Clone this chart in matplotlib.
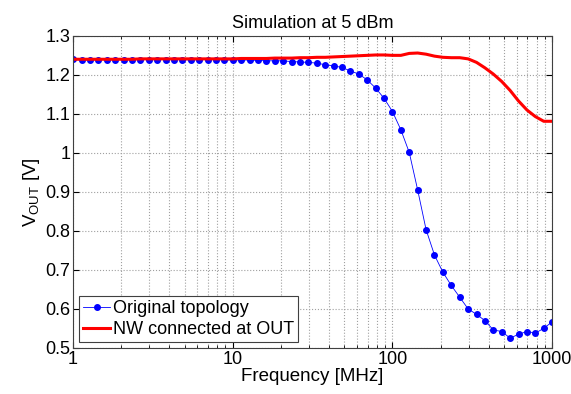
import numpy as np
import matplotlib.pyplot as plt
from matplotlib.ticker import FixedLocator, FixedFormatter, LogLocator, NullFormatter

plt.rcParams['font.family'] = ['Liberation Sans', 'DejaVu Sans']
plt.rcParams['mathtext.fontset'] = 'custom'
plt.rcParams['mathtext.rm'] = 'Liberation Sans'
plt.rcParams['mathtext.it'] = 'Liberation Sans'

# frequencias (MHz), 19 pontos por decada
freq = [1, 1.129, 1.274, 1.438, 1.624, 1.833, 2.069, 2.336, 2.637, 2.976,
        3.360, 3.793, 4.281, 4.833, 5.456, 6.158, 6.952, 7.848, 8.859, 10,
        11.29, 12.74, 14.38, 16.24, 18.33, 20.69, 23.36, 26.37, 29.76, 33.60,
        37.93, 42.81, 48.33, 54.56, 61.58, 69.52, 78.48, 88.59, 100, 112.9,
        127.4, 143.8, 162.4, 183.3, 206.9, 233.6, 263.7, 297.6, 336.0, 379.3,
        428.1, 483.3, 545.6, 615.8, 695.2, 784.8, 885.9, 1000]

# topologia original
v_orig = [1.240, 1.238, 1.238, 1.239, 1.239, 1.239, 1.239, 1.239, 1.239, 1.239,
          1.239, 1.239, 1.239, 1.239, 1.238, 1.239, 1.239, 1.239, 1.238, 1.238,
          1.238, 1.238, 1.237, 1.236, 1.236, 1.236, 1.234, 1.233, 1.232, 1.230,
          1.226, 1.223, 1.219, 1.210, 1.202, 1.187, 1.166, 1.140, 1.106, 1.059,
          1.001, 0.905, 0.803, 0.738, 0.694, 0.660, 0.630, 0.600, 0.586, 0.570,
          0.546, 0.542, 0.525, 0.535, 0.542, 0.538, 0.550, 0.567]

# NW conectado na saida
v_nw = [1.240, 1.240, 1.240, 1.240, 1.240, 1.240, 1.240, 1.240, 1.241, 1.241,
        1.241, 1.241, 1.241, 1.241, 1.241, 1.241, 1.241, 1.241, 1.241, 1.241,
        1.242, 1.242, 1.242, 1.242, 1.243, 1.243, 1.243, 1.244, 1.244, 1.245,
        1.245, 1.246, 1.247, 1.248, 1.249, 1.250, 1.251, 1.251, 1.250, 1.250,
        1.255, 1.256, 1.253, 1.248, 1.245, 1.244, 1.244, 1.241, 1.232, 1.218,
        1.202, 1.183, 1.160, 1.133, 1.110, 1.093, 1.081, 1.081]

fig = plt.figure(figsize=(5.71, 3.94), dpi=100)
ax = fig.add_axes([0.128, 0.117, 0.839, 0.792])

ax.plot(freq, v_orig, '-', color='#0000ff', lw=0.6, marker='o', ms=4,
        mec='#0000ff', mfc='#0000ff', label='Original topology')
ax.plot(freq, v_nw, '-', color='#ff0000', lw=2.2, label='NW connected at OUT')

ax.set_xscale('log')
ax.set_xlim(1, 1000)
ax.set_ylim(0.5, 1.3)
ax.xaxis.set_major_locator(FixedLocator([1, 10, 100, 1000]))
ax.xaxis.set_major_formatter(FixedFormatter(['1', '10', '100', '1000']))
ax.xaxis.set_minor_locator(LogLocator(base=10, subs=np.arange(2, 10)))
ax.xaxis.set_minor_formatter(NullFormatter())
ax.set_yticks(np.arange(0.5, 1.31, 0.1))
ax.set_yticklabels(['0.5', '0.6', '0.7', '0.8', '0.9', '1', '1.1', '1.2', '1.3'])

ax.grid(True, which='major', ls=':', color='#a0a0a0', lw=0.8)
ax.grid(True, which='minor', axis='x', ls=':', color='#a0a0a0', lw=0.8)
ax.tick_params(which='both', direction='in', top=True, right=True, labelsize=13)
ax.tick_params(which='major', length=4, pad=2)
ax.tick_params(which='minor', length=2)
for s in ax.spines.values():
    s.set_color('#404040')
    s.set_linewidth(0.8)

ax.set_title('Simulation at 5 dBm', fontsize=13, pad=6)
ax.set_xlabel('Frequency [MHz]', fontsize=13.5, labelpad=0)
ax.set_ylabel(r'V$_{\mathrm{OUT}}$ [V]', fontsize=13.5, labelpad=2)

leg = ax.legend(loc='lower left', fontsize=13, fancybox=False, framealpha=1,
                edgecolor='#404040', borderaxespad=0.33, handlelength=1.5,
                handletextpad=0.15, borderpad=0.22, labelspacing=0.2)
leg.get_frame().set_linewidth(0.8)

plt.savefig('out.png', dpi=100)
